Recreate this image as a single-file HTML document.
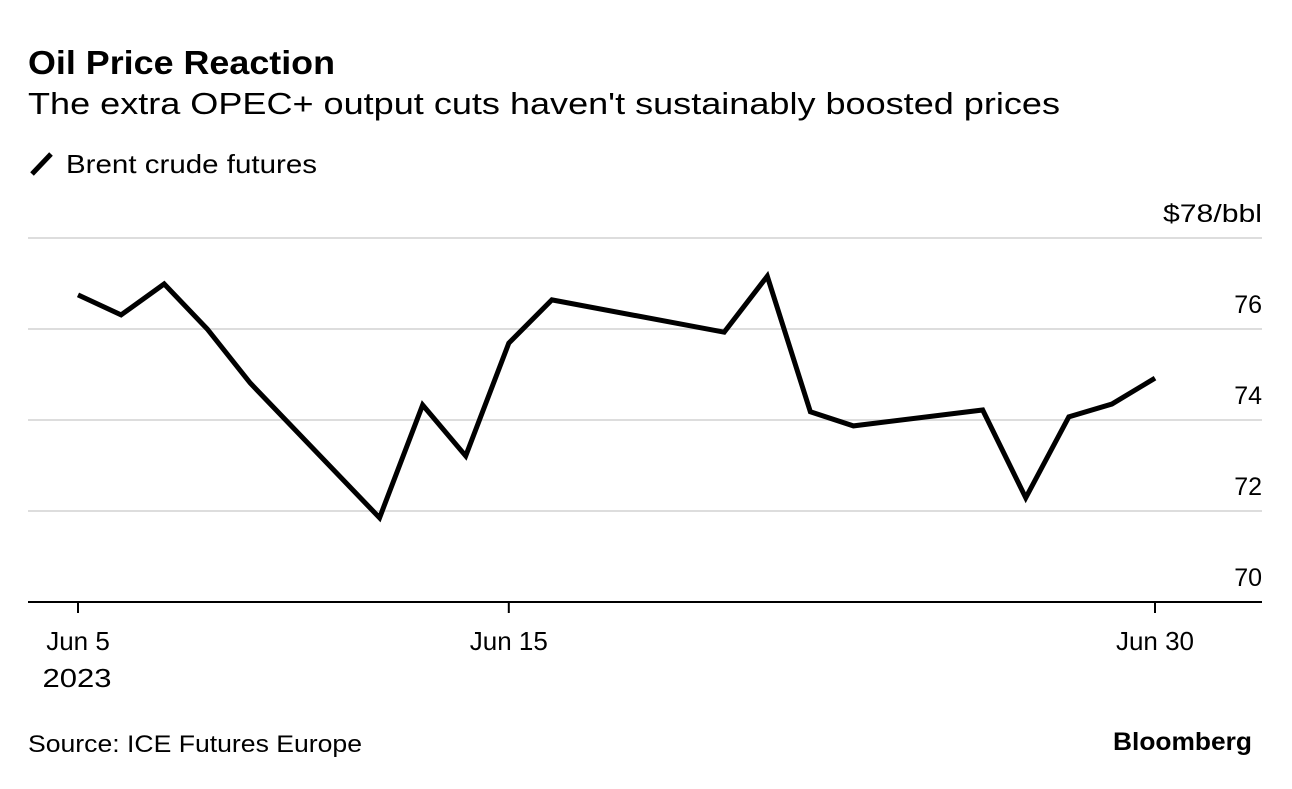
<!DOCTYPE html>
<html><head><meta charset="utf-8"><style>
body{margin:0;background:#fff;font-family:"Liberation Sans",sans-serif;}
svg text{font-family:"Liberation Sans",sans-serif;fill:#000;}
</style></head><body>
<svg width="1292" height="784" xmlns="http://www.w3.org/2000/svg">
<text x="28" y="74" font-size="33" font-weight="bold" textLength="307" lengthAdjust="spacingAndGlyphs">Oil Price Reaction</text>
<text x="28" y="114" font-size="31" textLength="1032" lengthAdjust="spacingAndGlyphs">The extra OPEC+ output cuts haven't sustainably boosted prices</text>
<line x1="32" y1="174" x2="51" y2="154" stroke="#000" stroke-width="5"/>
<text x="66" y="173" font-size="26" textLength="251" lengthAdjust="spacingAndGlyphs">Brent crude futures</text>
<g id="grid"></g>
<g id="xaxis"></g>
<path id="line" fill="none" stroke="#000" stroke-width="5" stroke-linejoin="miter"/>
<text x="28" y="752" font-size="24" textLength="334" lengthAdjust="spacingAndGlyphs">Source: ICE Futures Europe</text>
<text x="1113" y="750" font-size="25" font-weight="bold" textLength="139" lengthAdjust="spacingAndGlyphs">Bloomberg</text>
</svg>
<script>
const days=[5,6,7,8,9,12,13,14,15,16,20,21,22,23,26,27,28,29,30];
const prices=[76.75,76.31,76.99,76.0,74.81,71.85,74.33,73.21,75.69,76.64,75.93,77.16,74.18,73.87,74.22,72.29,74.07,74.35,74.92];
const yTicks=[70,72,74,76,78];
const yTickLabels=["70","72","74","76","$78/bbl"];
const xTicks=[5,15,30];
const xTickLabels=["Jun 5","Jun 15","Jun 30"];
const NS="http://www.w3.org/2000/svg";
const x=d=>78+(d-5)*43.08;
const y=v=>602-(v-70)*45.5;
const grid=document.getElementById('grid');
yTicks.forEach((t,i)=>{
  const l=document.createElementNS(NS,'line');
  l.setAttribute('x1',28);l.setAttribute('x2',1262);
  l.setAttribute('y1',y(t));l.setAttribute('y2',y(t));
  l.setAttribute('stroke',t===70?'#000':'#ddd');l.setAttribute('stroke-width',2);
  
  
  grid.appendChild(l);
  const tx=document.createElementNS(NS,'text');
  tx.setAttribute('x',1262);tx.setAttribute('y',y(t)-16);
  tx.setAttribute('text-anchor','end');tx.setAttribute('font-size','25');
  if(i===yTicks.length-1){tx.setAttribute('textLength','99');tx.setAttribute('lengthAdjust','spacingAndGlyphs');}
  tx.textContent=yTickLabels[i];
  
  
  grid.appendChild(tx);
});
const xa=document.getElementById('xaxis');
xTicks.forEach((d,i)=>{
  const l=document.createElementNS(NS,'line');
  l.setAttribute('x1',x(d));l.setAttribute('x2',x(d));l.setAttribute('y1',602);l.setAttribute('y2',613);
  l.setAttribute('stroke','#000');l.setAttribute('stroke-width',2);
  
  
  xa.appendChild(l);
  const tx=document.createElementNS(NS,'text');
  tx.setAttribute('x',x(d));tx.setAttribute('y',650);tx.setAttribute('text-anchor','middle');tx.setAttribute('font-size','26');
  tx.textContent=xTickLabels[i];
  
  
  xa.appendChild(tx);
});
const yr=document.createElementNS(NS,'text');
yr.setAttribute('x',x(5)-1);yr.setAttribute('y',687);yr.setAttribute('text-anchor','middle');yr.setAttribute('font-size','26');
yr.setAttribute('textLength','69');yr.setAttribute('lengthAdjust','spacingAndGlyphs');
yr.textContent='2023';


xa.appendChild(yr);
document.getElementById('line').setAttribute('d',days.map((d,i)=>(i?'L':'M')+x(d)+','+y(prices[i])).join(''));
</script>
</body></html>
